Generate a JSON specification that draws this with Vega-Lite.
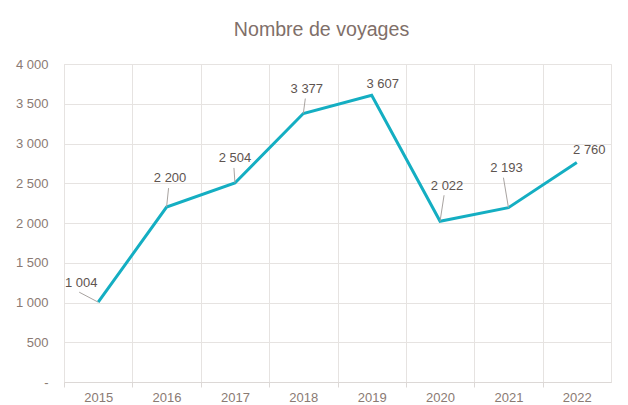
{
  "$schema": "https://vega.github.io/schema/vega-lite/v6.json",
  "width": 547,
  "height": 318,
  "autosize": {"type": "none"},
  "padding": {"left": 64, "top": 64, "right": 17, "bottom": 23},
  "background": "white",
  "title": {"text": "Nombre de voyages", "fontSize": 19.6, "font": "Liberation Sans", "fontWeight": "normal", "color": "#7f6f69", "anchor": "middle", "frame": "group", "dx": -16, "offset": 2, "baseline": "alphabetic"},
  "config": {
    "locale": {"number": {"decimal": ",", "thousands": " ", "grouping": [3], "currency": ["", " €"]}},
    "view": {"stroke": "#e6e3e1", "strokeWidth": 1},
    "font": "Liberation Sans",
    "text": {"font": "Liberation Sans", "fontSize": 13, "color": "#5e5450", "align": "center", "baseline": "middle"}
  },
  "data": {"values": [
    {"year": "2015", "value": 1004},
    {"year": "2016", "value": 2200},
    {"year": "2017", "value": 2504},
    {"year": "2018", "value": 3377},
    {"year": "2019", "value": 3607},
    {"year": "2020", "value": 2022},
    {"year": "2021", "value": 2193},
    {"year": "2022", "value": 2760}
  ]},
  "encoding": {
    "x": {"field": "year", "type": "ordinal", "scale": {"type": "point", "padding": 0.5},
      "axis": {"title": null, "labelAngle": 0, "labelFont": "Liberation Sans", "labelFontSize": 13, "labelColor": "#8a7a73",
        "tickOffset": -34.1875, "labelOffset": 34.1875, "grid": true, "gridColor": "#e6e3e1", "domainColor": "#dcd8d6", "tickColor": "#dcd8d6", "tickSize": 5, "labelPadding": 4}},
    "y": {"field": "value", "type": "quantitative", "scale": {"domain": [0, 4000], "nice": false},
      "axis": {"title": null, "values": [0, 500, 1000, 1500, 2000, 2500, 3000, 3500, 4000], "format": ",d", "labelExpr": "datum.value === 0 ? '-\u00a0\u00a0' : datum.label",
        "labelFont": "Liberation Sans", "labelFontSize": 13, "labelColor": "#8a7a73", "domain": false, "ticks": false, "labelPadding": 16, "gridColor": "#e6e3e1"}}
  },
  "layer": [
    {"mark": {"type": "line", "color": "#14aec2", "strokeWidth": 3}},
    {"transform": [{"filter": "datum.year == '2015'"}], "mark": {"type": "rule", "color": "#a8a3a0", "strokeWidth": 1, "x2Offset": -19, "y2Offset": -10}, "encoding": {"x2": {"field": "year"}, "y2": {"field": "value"}}},
    {"transform": [{"filter": "datum.year == '2016'"}], "mark": {"type": "rule", "color": "#a8a3a0", "strokeWidth": 1, "x2Offset": 2, "y2Offset": -19}, "encoding": {"x2": {"field": "year"}, "y2": {"field": "value"}}},
    {"transform": [{"filter": "datum.year == '2017'"}], "mark": {"type": "rule", "color": "#a8a3a0", "strokeWidth": 1, "x2Offset": -1, "y2Offset": -15}, "encoding": {"x2": {"field": "year"}, "y2": {"field": "value"}}},
    {"transform": [{"filter": "datum.year == '2018'"}], "mark": {"type": "rule", "color": "#a8a3a0", "strokeWidth": 1, "x2Offset": 2, "y2Offset": -15}, "encoding": {"x2": {"field": "year"}, "y2": {"field": "value"}}},
    {"transform": [{"filter": "datum.year == '2020'"}], "mark": {"type": "rule", "color": "#a8a3a0", "strokeWidth": 1, "x2Offset": 4, "y2Offset": -26}, "encoding": {"x2": {"field": "year"}, "y2": {"field": "value"}}},
    {"transform": [{"filter": "datum.year == '2021'"}], "mark": {"type": "rule", "color": "#a8a3a0", "strokeWidth": 1, "x2Offset": -5, "y2Offset": -30}, "encoding": {"x2": {"field": "year"}, "y2": {"field": "value"}}},
    {"transform": [{"filter": "datum.year == '2015'"}], "mark": {"type": "text", "dx": -17, "dy": -19}, "encoding": {"text": {"field": "value", "format": ",d"}}},
    {"transform": [{"filter": "datum.year == '2016'"}], "mark": {"type": "text", "dx": 3.5, "dy": -29.5}, "encoding": {"text": {"field": "value", "format": ",d"}}},
    {"transform": [{"filter": "datum.year == '2017'"}], "mark": {"type": "text", "dx": 0, "dy": -25}, "encoding": {"text": {"field": "value", "format": ",d"}}},
    {"transform": [{"filter": "datum.year == '2018'"}], "mark": {"type": "text", "dx": 3.5, "dy": -25}, "encoding": {"text": {"field": "value", "format": ",d"}}},
    {"transform": [{"filter": "datum.year == '2019'"}], "mark": {"type": "text", "dx": 11, "dy": -11}, "encoding": {"text": {"field": "value", "format": ",d"}}},
    {"transform": [{"filter": "datum.year == '2020'"}], "mark": {"type": "text", "dx": 7, "dy": -35}, "encoding": {"text": {"field": "value", "format": ",d"}}},
    {"transform": [{"filter": "datum.year == '2021'"}], "mark": {"type": "text", "dx": -2, "dy": -40}, "encoding": {"text": {"field": "value", "format": ",d"}}},
    {"transform": [{"filter": "datum.year == '2022'"}], "mark": {"type": "text", "dx": 12.5, "dy": -13}, "encoding": {"text": {"field": "value", "format": ",d"}}}
  ]
}
